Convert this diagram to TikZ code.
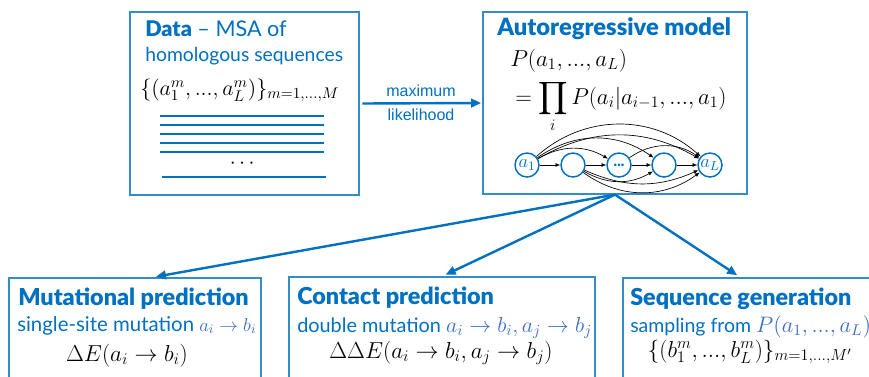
\documentclass[tikz,border=0pt]{standalone}
\usepackage{fix-cm}
\usepackage{amsmath, amssymb}
\usepackage{fontspec}
\usepackage{tikz}
\usepackage{xcolor}
\usetikzlibrary{arrows.meta, fit, positioning}

\newfontfamily\gillfont{Lato}
\newfontfamily\gillheavy{Lato Black}
\newfontfamily\helvfont{Liberation Sans}

\definecolor{darkblue}{RGB}{0,112,192}
\definecolor{boxblue}{RGB}{52,140,205}
\definecolor{mathblue}{RGB}{60,110,200}

\newcommand{\bluemath}[2]{\textcolor{mathblue}{\fontsize{#1}{20}\selectfont$#2$}}

\tikzset{
  panel/.style={draw=boxblue, line width=0.9pt, inner sep=0pt},
  txt/.style={anchor=base west, inner sep=0pt, text=darkblue, font=\gillfont\fontsize{14.5}{17}\selectfont},
  subtxt/.style={txt, font=\gillfont\fontsize{15.3}{18}\selectfont},
  ttl/.style={txt, font=\gillheavy\fontsize{17.5}{20}\selectfont},
  eqn/.style={anchor=base, inner sep=0pt, font=\fontsize{17.3}{20}\selectfont},
  flow/.style={draw=darkblue, line width=1.8pt, -{Triangle[length=7.5pt,width=6.5pt]}},
  msa/.style={draw=darkblue, line width=1.8pt},
  site/.style={circle, draw=darkblue, line width=1.1pt, minimum size=18pt, inner sep=0pt, text=darkblue, font=\fontsize{14}{16}\selectfont},
  dep/.style={line width=0.5pt, -{Latex[length=3.5pt,width=3pt]}},
}

\begin{document}
\begin{tikzpicture}[x=0.75pt,y=0.75pt,yscale=-1,xscale=1]
        \useasboundingbox (0,0) rectangle (869,376);
        \clip (0,0) rectangle (869,376);

        %Shape: Rectangle [data]
        \node [panel, fit={(130,12) (359,195)}] (data) {};
        %Shape: Rectangle [model]
        \node [panel, fit={(483,12) (747,194)}] (ar) {};
        %Shape: Rectangle [mutation]
        \node [panel, fit={(9,278) (261,400)}] (mut) {};
        %Shape: Rectangle [contact]
        \node [panel, fit={(289,277) (595,400)}] (con) {};
        %Shape: Rectangle [generation]
        \node [panel, fit={(623,278) (900,400)}] (seq) {};

        % Text Node
        \node [txt, font=\gillfont\fontsize{16.2}{19}\selectfont] (datattl) at (145,36) {{\gillheavy Data} – MSA of};
        % Text Node
        \node [txt] (datasub) at (145,61) {homologous sequences};
        % Text Node
        \node [eqn, anchor=base west, font=\fontsize{16.5}{19}\selectfont] (dataeq) at (140,95) {$\{(a_1^m,...,a_L^m)\}_{m=1,...,M}$};

        %Straight Lines [msa]
        \draw [msa] (160,116) -- (324,116);
        \draw [msa] (160,125) -- (324,125);
        \draw [msa] (160,134) -- (324,134);
        \draw [msa] (160,143) -- (324,143);
        \draw [msa] (160,152) -- (324,152);
        \draw [msa] (162,177) -- (326,177);
        % Text Node
        \node [eqn, font=\fontsize{16}{19}\selectfont] (msadots) at (244,168) {$\cdots$};

        % Text Node
        \node [ttl, font=\gillheavy\fontsize{17.8}{20}\selectfont] (arttl) at (497,35) {Autoregressive model};
        % Text Node
        \node [eqn, anchor=base west] (areq) at (510,66) {$P(a_1,...,a_L)$};
        % Text Node
        \node [eqn, anchor=base west, font=\fontsize{17.2}{20}\selectfont] (arprod) at (515,104) {$\displaystyle =\prod_i P(a_i|a_{i-1},...,a_1)$};

        % Sites
        \node [site] (a1) at (527,165) {$a_1$};
        \node [site] (s2) at (573,165) {};
        \node [site] (sd) at (619,165) {\gillheavy\fontsize{11}{12}\selectfont ...};
        \node [site] (s4) at (664,165) {};
        \node [site] (aL) at (710,165) {$a_L$};

        \draw [dep] (a1) -- (s2);
        \draw [dep] (s2) -- (sd);
        \draw [dep] (sd) -- (s4);
        \draw [dep] (s4) -- (aL);
        \draw [dep] (a1) to [bend right=30] (sd);
        \draw [dep] (a1) to [bend right=35] (s4);
        \draw [dep] (a1) to [bend right=30] (aL);
        \draw [dep] (a1) to [bend right=42] (aL);
        \draw [dep] (sd) to [bend right=35] (aL);
        \draw [dep] (s2) to [bend left=30] (s4);
        \draw [dep] (s2) to [bend left=24] (aL);
        \draw [dep] (s2) to [bend left=36] (aL);

        % maximum likelihood
        \draw [flow, shorten <=2pt, shorten >=1pt] (data.east) -- (ar.west)
            node [midway, above=1pt, text=darkblue, font=\helvfont\fontsize{12}{14}\selectfont] (mlup) {maximum}
            node [midway, below=0pt, text=darkblue, font=\helvfont\fontsize{12}{14}\selectfont] (mldown) {likelihood};

        % fan out
        \draw [flow, shorten >=3pt] (ar.south) -- ([xshift=12.75pt]mut.north);
        \draw [flow, shorten >=3pt] (ar.south) -- (con.north);
        \draw [flow, shorten >=3pt] (ar.south) -- ([xshift=-15.75pt]seq.north);

        % Text Node
        \node [ttl] (mutttl) at (18,305) {Mutational prediction};
        % Text Node
        \node [subtxt] (mutsub) at (17,331) {single-site mutation \bluemath{14}{a_i\to b_i}};
        % Text Node
        \node [eqn] (muteq) at (127,361) {$\Delta E(a_i\to b_i)$};

        % Text Node
        \node [ttl] (conttl) at (297,304) {Contact prediction};
        % Text Node
        \node [subtxt, font=\gillfont\fontsize{14.9}{18}\selectfont] (consub) at (297,332) {double mutation \bluemath{16.4}{a_i\to b_i, a_j\to b_j}};
        % Text Node
        \node [eqn] (coneq) at (441,358) {$\Delta\Delta E(a_i\to b_i,a_j\to b_j)$};

        % Text Node
        \node [ttl] (seqttl) at (630,305) {Sequence generation};
        % Text Node
        \node [subtxt, font=\gillfont\fontsize{14.6}{18}\selectfont] (seqsub) at (630,332) {sampling from \bluemath{16.8}{P(a_1,...,a_L)}};
        % Text Node
        \node [eqn] (seqeq) at (750,357) {$\{(b_1^m,...,b_L^m)\}_{m=1,...,M'}$};

\end{tikzpicture}
\end{document}
